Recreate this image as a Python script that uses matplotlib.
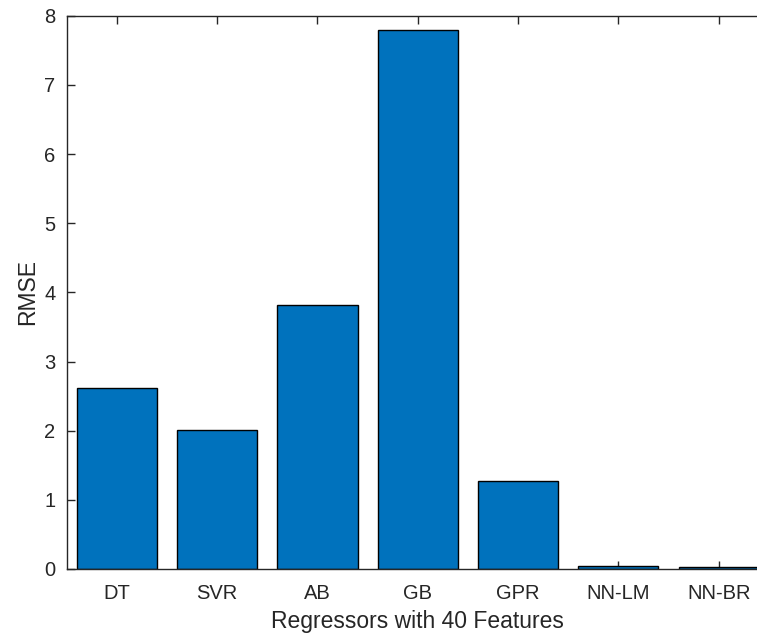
import matplotlib
matplotlib.use("Agg")
import matplotlib.pyplot as plt

categories = ["DT", "SVR", "AB", "GB", "GPR", "NN-LM", "NN-BR"]
rmse = [2.62, 2.01, 3.81, 7.80, 1.27, 0.05, 0.03]
yticks = [0, 1, 2, 3, 4, 5, 6, 7, 8]

plt.rcParams['font.family'] = ['Liberation Sans', 'DejaVu Sans']
fig = plt.figure(figsize=(7.57, 6.39), dpi=100)
ax = fig.add_axes([66.7/757, 70/639, (768.8-66.7)/757, (569-15.7)/639])

x = list(range(1, len(categories) + 1))
ax.bar(x, rmse, width=0.8, color='#0072BD', edgecolor='black', linewidth=1.0, zorder=2)

ax.set_xlim(0.5, 7.5)
ax.set_ylim(0, 8)
ax.set_xticks(x)
ax.set_xticklabels(categories)
ax.set_yticks(yticks)
gray = '#262626'
ax.tick_params(direction='in', length=6, width=1, top=True, right=True,
               labelsize=14.5, colors=gray, labelcolor=gray)
ax.tick_params(axis='x', pad=11)
ax.tick_params(axis='y', pad=8)
for s in ax.spines.values():
    s.set_color(gray)
    s.set_linewidth(1)
ax.set_xlabel("Regressors with 40 Features", fontsize=16.5, color=gray, labelpad=5)
ax.set_ylabel("RMSE", fontsize=16.5, color=gray, labelpad=4)

fig.savefig("out.png", dpi=100)
